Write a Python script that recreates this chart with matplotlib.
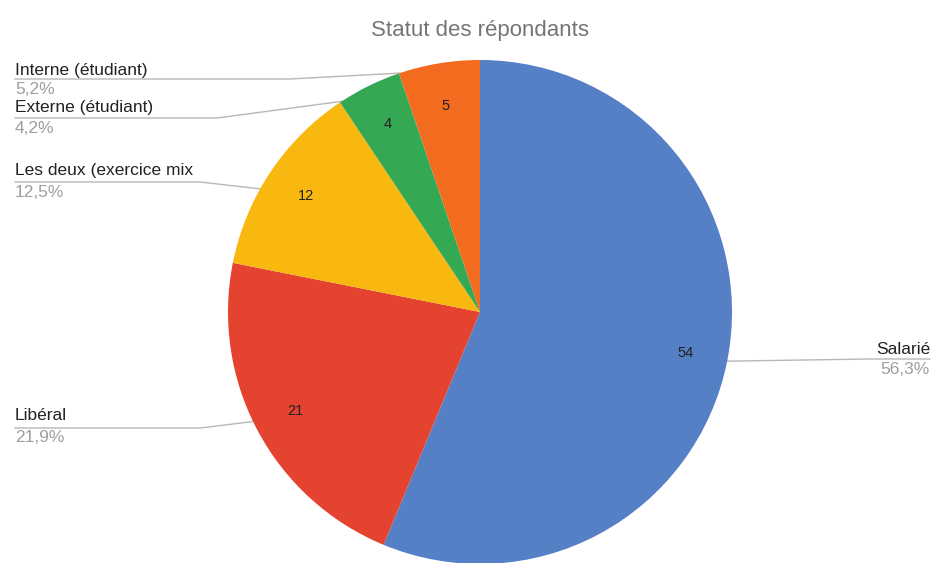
from decimal import Decimal, ROUND_HALF_UP
import numpy as np
import matplotlib
matplotlib.use('Agg')
import matplotlib.pyplot as plt

plt.rcParams['font.family'] = ['Liberation Sans', 'DejaVu Sans']

# pie data, clockwise from 12 o'clock
labels = ['Salarié', 'Libéral', 'Les deux (exercice mix', 'Externe (étudiant)', 'Interne (étudiant)']
counts = [54, 21, 12, 4, 5]
colors = ['#5580C6', '#E4432F', '#F9B810', '#34A853', '#F26B1E']

W, H = 945, 563
total = sum(counts)

fig = plt.figure(figsize=(W / 100, H / 100), dpi=100)
ax = fig.add_axes([0, 0, 1, 1])

def Y(y):
    # pixel row (top origin) -> axes y
    return H - y

def fmt_pct(n):
    p = Decimal(100 * n) / Decimal(total)
    return str(p.quantize(Decimal('0.1'), rounding=ROUND_HALF_UP)).replace('.', ',') + '%'

cx, cy, R = 480, 312, 252

wedges, _, autotexts = ax.pie(
    counts, colors=colors, startangle=90, counterclock=False,
    radius=R, center=(cx, Y(cy)), wedgeprops=dict(linewidth=0),
    autopct=lambda p: f'{round(p * total / 100):d}', pctdistance=0.83,
    textprops=dict(fontsize=10.5, color='#222222'))

ax.set_xlim(0, W)
ax.set_ylim(0, H)
ax.set_aspect('equal')
ax.axis('off')

ax.text(cx, Y(30), 'Statut des répondants', ha='center', va='center',
        fontsize=16, color='#757575')

# label placement: (text x, name row, line row, knee x, align, anchor fraction in wedge)
layout = [
    (930, 349, 359, 870, 'right', 0.50),
    (15, 416, 428, 200, 'left', 0.47),
    (15, 170, 182, 200, 'left', 0.60),
    (15, 107, 118, 217, 'left', 0.97),
    (15, 70, 79, 290, 'left', 0.99),
]

for w, lab, n, (tx, ny, ly, kx, ha, frac) in zip(wedges, labels, counts, layout):
    ang = np.deg2rad(w.theta1 + frac * (w.theta2 - w.theta1))
    ex, ey = cx + R * np.cos(ang), Y(cy) + R * np.sin(ang)
    ax.plot([tx, kx, ex], [Y(ly), Y(ly), ey], color='#b8b8b8', lw=1, zorder=0)
    ax.text(tx, Y(ny), lab, ha=ha, va='center', fontsize=12.5, color='#222222')
    ax.text(tx, Y(ly + 10), fmt_pct(n), ha=ha, va='center', fontsize=12.5, color='#9e9e9e')

plt.savefig('out.png', dpi=100)
